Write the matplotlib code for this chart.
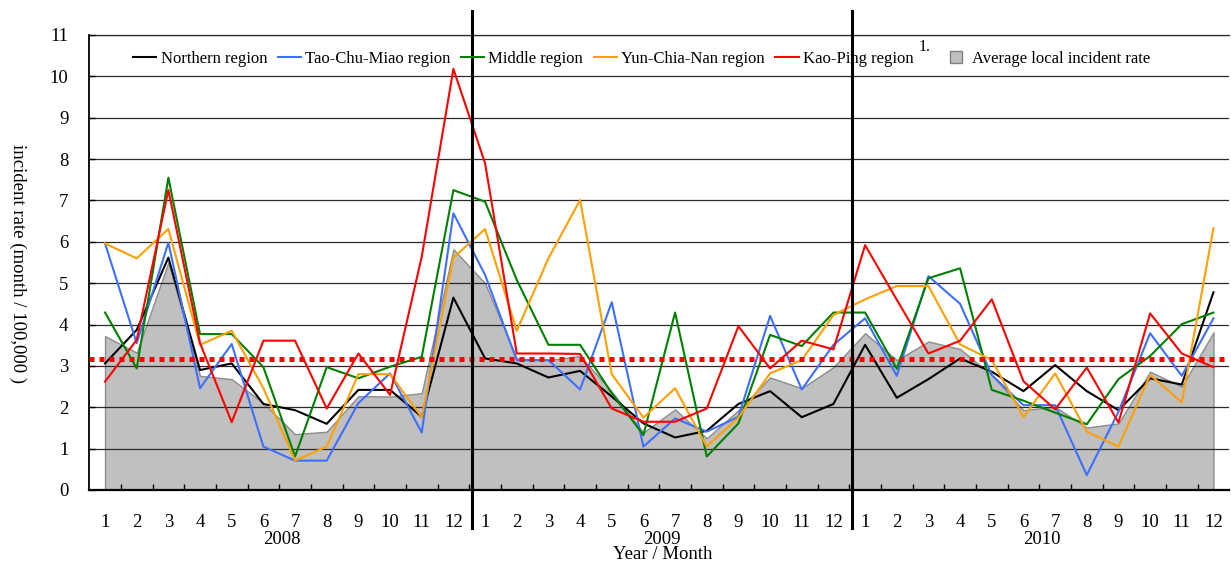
import matplotlib
matplotlib.use('Agg')
import matplotlib.pyplot as plt
from matplotlib.lines import Line2D
import numpy as np

plt.rcParams['font.family'] = ['Liberation Serif', 'DejaVu Serif']

# ---------------- data ----------------
years = ['2008', '2009', '2010']
months = [str(m) for m in range(1, 13)]
tick_labels = months * 3

northern = [3.06, 3.87, 5.62, 2.90, 3.06, 2.08, 1.93, 1.60, 2.42, 2.42, 1.77, 4.65,
            3.18, 3.06, 2.72, 2.88, 2.26, 1.61, 1.27, 1.43, 2.08, 2.39, 1.76, 2.08,
            3.51, 2.23, 2.68, 3.18, 2.86, 2.39, 3.02, 2.39, 1.93, 2.70, 2.55, 4.78]
tao_chu_miao = [5.96, 3.55, 5.98, 2.46, 3.53, 1.05, 0.71, 0.71, 2.10, 2.82, 1.39, 6.69,
                5.20, 3.14, 3.14, 2.43, 4.54, 1.05, 1.73, 1.41, 1.77, 4.21, 2.43, 3.51,
                4.15, 2.76, 5.17, 4.50, 2.78, 2.05, 2.05, 0.36, 1.89, 3.79, 2.76, 4.15]
middle = [4.29, 2.94, 7.55, 3.77, 3.77, 2.97, 0.81, 2.97, 2.70, 2.98, 3.22, 7.25,
          6.97, 5.08, 3.51, 3.51, 2.34, 1.33, 4.29, 0.81, 1.61, 3.75, 3.48, 4.29,
          4.29, 2.93, 5.12, 5.36, 2.42, 2.16, 1.87, 1.59, 2.68, 3.24, 4.01, 4.29]
yun_chia_nan = [5.96, 5.60, 6.31, 3.51, 3.85, 2.46, 0.71, 1.05, 2.80, 2.80, 1.76, 5.62,
                6.31, 3.85, 5.60, 7.01, 2.80, 1.75, 2.46, 1.05, 1.75, 2.82, 3.14, 4.23,
                4.61, 4.93, 4.93, 3.52, 3.14, 1.76, 2.82, 1.41, 1.05, 2.78, 2.12, 6.33]
kao_ping = [2.62, 3.63, 7.25, 3.55, 1.64, 3.61, 3.61, 1.97, 3.30, 2.30, 5.64, 10.18,
            7.90, 3.30, 3.30, 3.29, 1.97, 1.65, 1.65, 1.97, 3.96, 2.94, 3.61, 3.40,
            5.92, 4.60, 3.30, 3.61, 4.61, 2.63, 1.95, 2.96, 1.63, 4.27, 3.30, 2.97]
average_local = [3.72, 3.32, 5.50, 2.76, 2.68, 2.10, 1.35, 1.41, 2.27, 2.26, 2.34, 5.82,
                 5.00, 3.18, 3.14, 3.24, 2.38, 1.39, 1.95, 1.25, 1.93, 2.72, 2.46, 2.97,
                 3.79, 3.14, 3.59, 3.41, 2.78, 1.93, 2.01, 1.51, 1.61, 2.86, 2.50, 3.81]
overall_mean = 3.16
year_dividers = [11.6, 23.58]

series_names = ['Northern region', 'Tao-Chu-Miao region', 'Middle region',
                'Yun-Chia-Nan region', 'Kao-Ping region']
series_values = [northern, tao_chu_miao, middle, yun_chia_nan, kao_ping]
series_colors = ['#000000', '#3f6fff', '#008000', '#ffa000', '#ff0000']
area_label = 'Average local incident rate'
footnote_mark = '1.'

# ---------------- figure ----------------
W, H = 1231, 562
fig = plt.figure(figsize=(W / 100, H / 100), dpi=100)
ax = fig.add_axes([89.2 / W, 1 - 490 / H, (1229.3 - 89.2) / W, 455 / H])

x = np.arange(len(tick_labels))

ax.fill_between(x, average_local, 0, facecolor='#c0c0c0', edgecolor='#8c8c8c',
                linewidth=1.0, zorder=1)

for vals, col in zip(series_values, series_colors):
    ax.plot(x, vals, color=col, lw=1.5, zorder=3)

ax.axhline(overall_mean, color='#ff0000', lw=3.6, linestyle=(0, (1, 1)), zorder=4)

for d in year_dividers:
    ax.axvline(d, ymin=-0.0835, ymax=1.0527, color='black', lw=2.2,
               clip_on=False, zorder=5)

ax.set_xlim(-0.5, len(x) - 0.5)
ax.set_ylim(0, 11)
ax.set_yticks(range(0, 12))
ax.yaxis.grid(True, color='#2a2a2a', lw=0.9)
ax.set_axisbelow(False)

ax.set_xticks(x)
ax.set_xticklabels(tick_labels)
ax.set_xticks(np.arange(0.5, len(x) - 1, 1), minor=True)
ax.tick_params(axis='x', which='major', length=0, pad=17, labelsize=13.5)
ax.tick_params(axis='x', which='minor', direction='in', length=4.5, width=1.0)
ax.tick_params(axis='y', which='major', direction='in', length=4, width=1.0,
               pad=15, labelsize=13.5)

ax.spines['right'].set_visible(False)
ax.spines['top'].set_color('#2a2a2a')
ax.spines['top'].set_linewidth(0.9)
ax.spines['left'].set_linewidth(1.3)
ax.spines['bottom'].set_linewidth(1.6)

# year labels and axis titles
trans = ax.get_xaxis_transform()
for k, yr in enumerate(years):
    ax.text(12 * k + 5.57, -0.108, yr, transform=trans, ha='center', va='center',
            fontsize=13.5)
ax.text(17.6, -0.142, 'Year / Month', transform=trans, ha='center', va='center',
        fontsize=13.5)

ax.set_ylabel('incident rate (month / 100,000 )', rotation=270, fontsize=13.5,
              ha='center', va='center')
ax.yaxis.set_label_coords(-0.0625, 0.497)

# legends
leg_kw = dict(frameon=False, fontsize=12, handlelength=1.4, handletextpad=0.25,
              columnspacing=0.63, borderpad=0, borderaxespad=0)
line_handles = [Line2D([], [], color=c, lw=1.5) for c in series_colors]
leg1 = ax.legend(line_handles, series_names, ncol=5, loc='center left',
                 bbox_to_anchor=(0.0385, 0.947), **leg_kw)
ax.add_artist(leg1)

fig.canvas.draw()
bb1 = leg1.get_window_extent()
bbk = leg1.get_texts()[-1].get_window_extent()

area_handle = Line2D([], [], marker='s', linestyle='none', markersize=8,
                     markerfacecolor='#c0c0c0', markeredgecolor='#808080')
ax.legend([area_handle], [area_label], loc='center left',
          bbox_to_anchor=((bb1.x1 + 31) / W, (bb1.y0 + bb1.y1) / 2 / H),
          bbox_transform=fig.transFigure, **leg_kw)

# footnote mark just after the Kao-Ping legend entry
fig.text((bbk.x1 + 5) / W, ((bbk.y0 + bbk.y1) / 2 + 12) / H, footnote_mark,
         ha='left', va='center', fontsize=11.5)

fig.savefig('out.png', dpi=100)
